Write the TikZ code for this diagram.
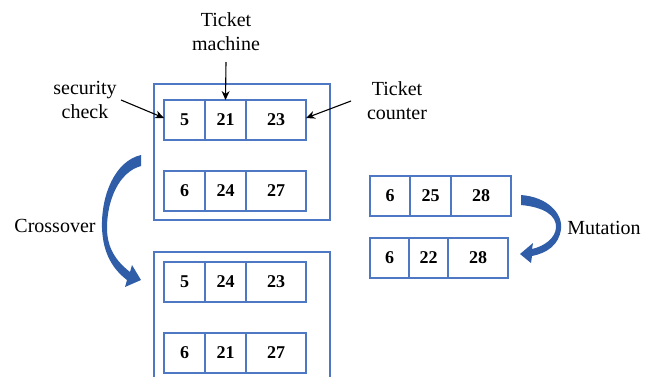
\documentclass[tikz,border=0pt]{standalone}
\usepackage{fontspec}
\setmainfont{Liberation Serif}
\usetikzlibrary{arrows.meta}
\definecolor{boxblue}{HTML}{4F78C4}
\definecolor{arrowblue}{HTML}{2F5DA8}
\tikzset{
  cell/.style={draw=boxblue, line width=1.1pt, minimum height=40pt, inner sep=0pt,
    outer sep=0pt, anchor=north west, font=\bfseries\fontsize{18}{20}\selectfont},
  frame/.style={draw=boxblue, line width=1.1pt},
  lbl/.style={align=center, font=\fontsize{20}{24}\selectfont, inner sep=0pt},
  pointer/.style={draw=black, line width=1.1pt, -{Stealth[length=9pt,width=8pt]}},
  bigarrow/.style={fill=arrowblue, draw=none}
}
\begin{document}
\begin{tikzpicture}[x=1pt, y=-1pt]
\useasboundingbox (0,0) rectangle (652,376);
\clip (0,0) rectangle (652,376);

% parent and offspring frames
\draw[frame] (154,84) rectangle (330,220);
\draw[frame] (154,252) rectangle (330,392);

% parents
\node[cell, minimum width=41pt] (p1a) at (164,100) {5};
\node[cell, minimum width=41pt] (p1b) at (205,100) {21};
\node[cell, minimum width=60pt] (p1c) at (246,100) {23};
\node[cell, minimum width=41pt] (p2a) at (164,171) {6};
\node[cell, minimum width=41pt] (p2b) at (205,171) {24};
\node[cell, minimum width=60pt] (p2c) at (246,171) {27};

% offspring
\node[cell, minimum width=41pt] (o1a) at (164,262) {5};
\node[cell, minimum width=41pt] (o1b) at (205,262) {24};
\node[cell, minimum width=60pt] (o1c) at (246,262) {23};
\node[cell, minimum width=41pt] (o2a) at (164,333) {6};
\node[cell, minimum width=41pt] (o2b) at (205,333) {21};
\node[cell, minimum width=60pt] (o2c) at (246,333) {27};

% mutation pair
\node[cell, minimum width=40pt] (m1a) at (370,176) {6};
\node[cell, minimum width=41pt] (m1b) at (410,176) {25};
\node[cell, minimum width=60pt] (m1c) at (451,176) {28};
\node[cell, minimum width=39pt] (m2a) at (370,238) {6};
\node[cell, minimum width=39pt] (m2b) at (409,238) {22};
\node[cell, minimum width=60pt] (m2c) at (448,238) {28};

% labels
\node[lbl] (machine) at (226,32) {Ticket\\machine};
\node[lbl] (security) at (85,100) {security\\check};
\node[lbl] (counter) at (397,101) {Ticket\\counter};
\node[lbl] (crossover) at (55,226) {Crossover};
\node[lbl] (mutation) at (604,228) {Mutation};

% pointers from the labels to the genes
\coordinate (machineTail) at (226,62);
\coordinate (securityTail) at (121,100);
\coordinate (counterTail) at (351,101);
\draw[pointer] (machineTail) -- (p1b.north);
\draw[pointer] (securityTail) -- ([yshift=2pt]p1a.west);
\draw[pointer] (counterTail) -- ([yshift=2pt]p1c.east);

% crossover arrow
\path[bigarrow] (141,155) .. controls (115,161) and (101,195) .. (102,228)
  .. controls (103,255) and (114,270) .. (127,280)
  -- (125,287) -- (141,280) -- (132,265) -- (130,272)
  .. controls (116,261) and (107,248) .. (107,228)
  .. controls (107,200) and (119,172) .. (141,166) -- cycle;

% mutation arrow
\path[bigarrow] (521,195) .. controls (548,197) and (563,214) .. (561,229)
  .. controls (559,245) and (547,253) .. (532,256)
  -- (531,263) -- (520,254) -- (533,243) -- (532,249)
  .. controls (545,246) and (555,238) .. (556,228)
  .. controls (557,215) and (543,207) .. (521,205) -- cycle;
\end{tikzpicture}
\end{document}
